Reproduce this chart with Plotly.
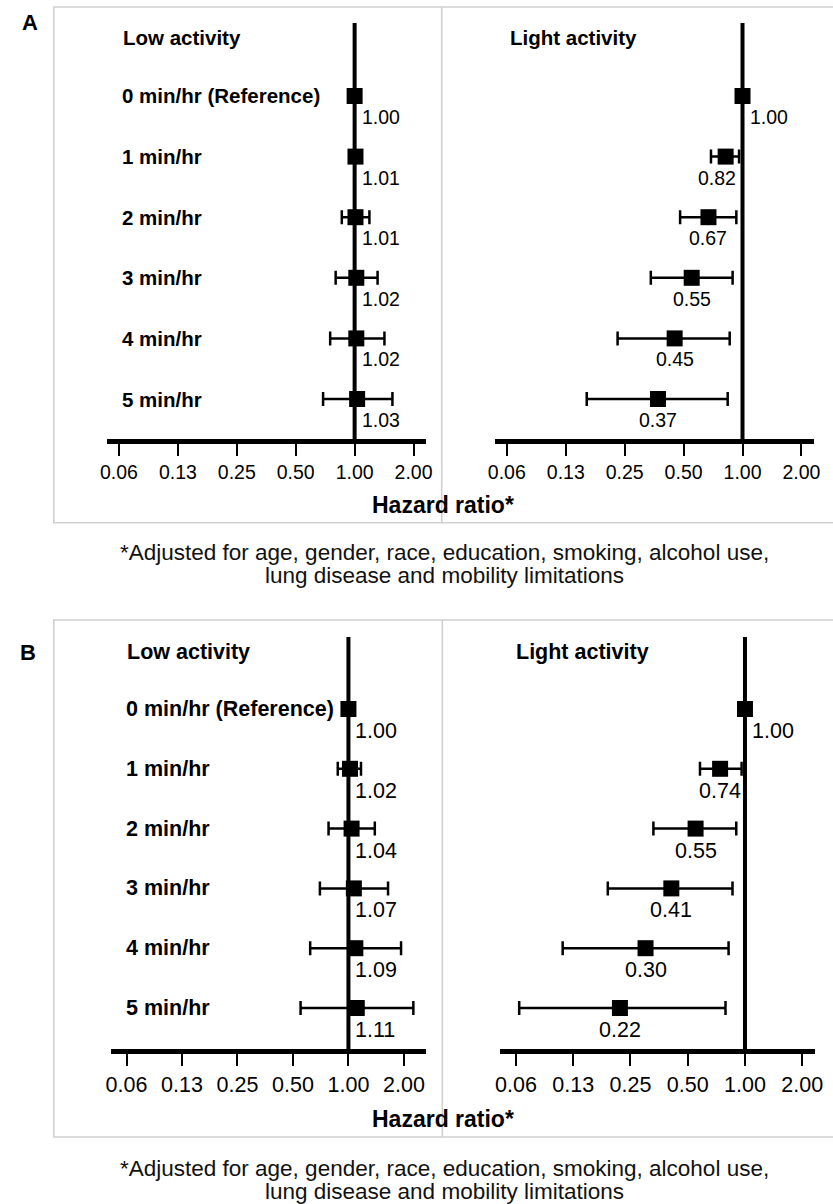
import numpy as np
import plotly.graph_objects as go

W, H = 833, 1204
FONT = "Liberation Sans, Arial, Helvetica, sans-serif"

# ---------------- data ----------------
row_labels = ["0 min/hr (Reference)", "1 min/hr", "2 min/hr", "3 min/hr", "4 min/hr", "5 min/hr"]
tick_vals = [0.0625, 0.125, 0.25, 0.5, 1.0, 2.0]
tick_text = ["0.06", "0.13", "0.25", "0.50", "1.00", "2.00"]

A_low_hr = [1.00, 1.01, 1.01, 1.02, 1.02, 1.03]
A_low_lo = [1.00, 0.95, 0.86, 0.80, 0.75, 0.69]
A_low_hi = [1.00, 1.07, 1.19, 1.31, 1.42, 1.56]

A_light_hr = [1.00, 0.82, 0.67, 0.55, 0.45, 0.37]
A_light_lo = [1.00, 0.69, 0.48, 0.34, 0.23, 0.16]
A_light_hi = [1.00, 0.96, 0.93, 0.89, 0.86, 0.84]

B_low_hr = [1.00, 1.02, 1.04, 1.07, 1.09, 1.11]
B_low_lo = [1.00, 0.875, 0.78, 0.70, 0.62, 0.55]
B_low_hi = [1.00, 1.17, 1.39, 1.64, 1.93, 2.25]

B_light_hr = [1.00, 0.74, 0.55, 0.41, 0.30, 0.22]
B_light_lo = [1.00, 0.58, 0.33, 0.19, 0.11, 0.065]
B_light_hi = [1.00, 0.96, 0.90, 0.86, 0.82, 0.79]

footnote_lines = ["*Adjusted for age, gender, race, education, smoking, alcohol use,",
                  "lung disease and mobility limitations"]

# ---------------- layout geometry (pixels) ----------------
panels = [
    dict(hr=A_low_hr, lo=A_low_lo, hi=A_low_hi, title="Low activity", labels=True,
         xdom=(102, 427), one=354, step=60, ydom=(23, 439), row0=96, rowstep=60.6,
         title_x=116, title_y=37, label_x=115, fs=19.5, lfs=20.5, vshift=-21),
    dict(hr=A_light_hr, lo=A_light_lo, hi=A_light_hi, title="Light activity", labels=False,
         xdom=(497, 822), one=749, step=60, ydom=(23, 439), row0=96, rowstep=60.6,
         title_x=510, title_y=37, label_x=None, fs=19.5, lfs=20.5, vshift=-21),
    dict(hr=B_low_hr, lo=B_low_lo, hi=B_low_hi, title="Low activity", labels=True,
         xdom=(106, 427), one=347.7, step=56.5, ydom=(637, 1049), row0=709, rowstep=59.8,
         title_x=120, title_y=652, label_x=119, fs=21.5, lfs=21.5, vshift=-22),
    dict(hr=B_light_hr, lo=B_light_lo, hi=B_light_hi, title="Light activity", labels=False,
         xdom=(502, 822.7), one=751.5, step=58.3, ydom=(637, 1049), row0=709, rowstep=59.8,
         title_x=516, title_y=652, label_x=None, fs=21.5, lfs=21.5, vshift=-22),
]

fig = go.Figure()
annotations = []
shapes = []
layout_axes = {}
L2 = np.log10(2)

for k, p in enumerate(panels, start=1):
    xa = "x" if k == 1 else f"x{k}"
    ya = "y" if k == 1 else f"y{k}"
    xkey = "xaxis" if k == 1 else f"xaxis{k}"
    ykey = "yaxis" if k == 1 else f"yaxis{k}"

    x0, x1 = p["xdom"]
    r0 = (x0 - p["one"]) / p["step"] * L2
    r1 = (x1 - p["one"]) / p["step"] * L2
    ytop, ybot = p["ydom"]
    yb = (ybot - p["row0"]) / p["rowstep"]
    yt = (ytop - p["row0"]) / p["rowstep"]

    layout_axes[xkey] = dict(
        type="log", range=[r0, r1], domain=[x0 / W, x1 / W], anchor=ya,
        showline=True, linewidth=4.5, linecolor="black", mirror=False,
        ticks="outside", ticklen=12, tickwidth=2, tickcolor="black",
        tickvals=tick_vals, ticktext=tick_text,
        tickfont=dict(family=FONT, size=p["fs"], color="black"),
        showgrid=False, zeroline=False, fixedrange=True,
    )
    layout_axes[ykey] = dict(
        range=[yb, yt], domain=[1 - ybot / H, 1 - ytop / H], anchor=xa,
        visible=False, showgrid=False, zeroline=False, fixedrange=True,
    )

    rows = list(range(len(p["hr"])))
    # reference line at HR = 1
    fig.add_trace(go.Scatter(x=[1, 1], y=[yb, yt], mode="lines",
                             line=dict(color="black", width=4),
                             xaxis=xa, yaxis=ya, hoverinfo="skip", showlegend=False,
                             cliponaxis=False))
    hr = np.array(p["hr"]); lo = np.array(p["lo"]); hi = np.array(p["hi"])
    fig.add_trace(go.Scatter(
        x=hr, y=rows, mode="markers",
        marker=dict(symbol="square", size=16, color="black", line=dict(width=0)),
        error_x=dict(type="data", symmetric=False, array=hi - hr, arrayminus=hr - lo,
                     color="black", thickness=2.5, width=7),
        xaxis=xa, yaxis=ya, showlegend=False, cliponaxis=False))

    # value labels
    for i, v in enumerate(p["hr"]):
        off = p["step"] * np.log2(v)
        if v >= 1.0:
            ann = dict(x=0.0, xanchor="left", xshift=5)
        elif off + 20 > -5:
            ann = dict(x=0.0, xanchor="right", xshift=-5)
        else:
            ann = dict(x=float(np.log10(v)), xanchor="center", xshift=0)
        ann.update(xref=xa, yref=ya, y=i, yshift=p["vshift"], yanchor="middle",
                   text=f"{v:.2f}", showarrow=False,
                   font=dict(family=FONT, size=p["fs"], color="black"))
        annotations.append(ann)

    # row labels
    if p["labels"]:
        for i, lab in enumerate(row_labels):
            annotations.append(dict(xref="paper", yref=ya, x=p["label_x"] / W, y=i,
                                    xanchor="left", yanchor="middle", showarrow=False,
                                    text=f"<b>{lab}</b>",
                                    font=dict(family=FONT, size=p["lfs"], color="black")))
    # panel title
    annotations.append(dict(xref="paper", yref="paper", x=p["title_x"] / W, y=1 - p["title_y"] / H,
                            xanchor="left", yanchor="middle", showarrow=False,
                            text=f"<b>{p['title']}</b>",
                            font=dict(family=FONT, size=p["lfs"], color="black")))

# frames, dividers, letters, axis titles, footnotes
for (top, bot, div, letter, lx, ly, hy, fys) in [
    (7, 522.7, 442.7, "A", 23, 23, 505, (552, 575)),
    (620, 1137, 443.3, "B", 21, 652, 1119, (1168, 1191)),
]:
    shapes.append(dict(type="rect", xref="paper", yref="paper",
                       x0=47.7 / W, x1=1.05, y0=1 - bot / H, y1=1 - top / H,
                       line=dict(color="#d0d0d0", width=1.6), fillcolor="rgba(0,0,0,0)", layer="below"))
    shapes.append(dict(type="line", xref="paper", yref="paper",
                       x0=div / W, x1=div / W, y0=1 - bot / H, y1=1 - top / H,
                       line=dict(color="#d0d0d0", width=1.6), layer="below"))
    annotations.append(dict(xref="paper", yref="paper", x=lx / W, y=1 - ly / H,
                            xanchor="center", yanchor="middle", showarrow=False,
                            text=f"<b>{letter}</b>",
                            font=dict(family=FONT, size=22, color="black")))
    annotations.append(dict(xref="paper", yref="paper", x=444 / W, y=1 - hy / H,
                            xanchor="center", yanchor="middle", showarrow=False,
                            text="<b>Hazard ratio*</b>",
                            font=dict(family=FONT, size=23, color="black")))
    for line_txt, fy in zip(footnote_lines, fys):
        annotations.append(dict(xref="paper", yref="paper", x=446 / W, y=1 - fy / H,
                                xanchor="center", yanchor="middle", showarrow=False,
                                text=line_txt, align="center",
                                font=dict(family=FONT, size=22.5, color="#111111")))

fig.update_layout(
    width=W, height=H, autosize=False,
    margin=dict(l=0, r=0, t=0, b=0),
    paper_bgcolor="white", plot_bgcolor="white",
    showlegend=False,
    annotations=annotations, shapes=shapes,
    **layout_axes,
)

fig.write_html(
    "out.html",
    config={"displayModeBar": False},
    post_script=(
        "document.body.style.margin='0px';"
        "document.body.style.padding='0px';"
        "document.body.style.overflow='hidden';"
        "document.documentElement.style.overflow='hidden';"
    ),
)
